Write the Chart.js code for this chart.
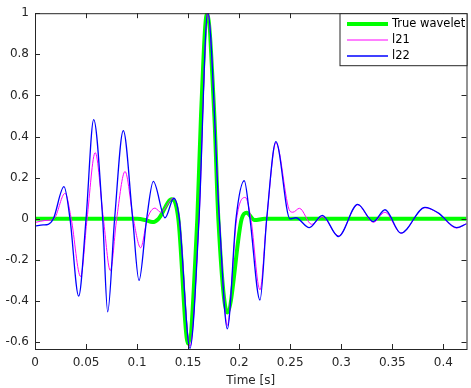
<!DOCTYPE html>
<html>
<head>
<meta charset="utf-8">
<script src="https://cdn.jsdelivr.net/npm/chart.js@4"></script>
<style>
  html, body { margin: 0; padding: 0; background: #fff; }
</style>
</head>
<body>
<canvas id="chart" width="471" height="388"></canvas>
<script>
// Values (time in s, amplitude)
const trueT = [0, 0.1, 0.108, 0.115, 0.121, 0.134, 0.1404, 0.150, 0.159, 0.1626, 0.1685, 0.1757, 0.1796, 0.1884, 0.2025, 0.2074, 0.215, 0.225, 0.4227]
const trueV = [0, 0, -0.006, -0.016, 0, 0.095, 0, -0.607, 0, 0.5, 1.0, 0.5, 0, -0.456, 0, 0.029, -0.006, 0, 0]

const l21T = [0, 0.01, 0.016, 0.0195, 0.0294, 0.0355, 0.0447, 0.051, 0.059, 0.067, 0.0738, 0.08, 0.0882, 0.0963, 0.1035, 0.110, 0.1176, 0.123, 0.1355, 0.1414, 0.1518, 0.1607, 0.1692, 0.1806, 0.1884, 0.1975, 0.206, 0.2115, 0.2204, 0.227, 0.236, 0.2498, 0.2527, 0.259, 0.271, 0.2815, 0.2972, 0.3161, 0.3314, 0.3429, 0.3585, 0.382, 0.395, 0.413, 0.4227]
const l21V = [-0.018, -0.008, -0.006, 0.005, 0.124, 0, -0.281, 0, 0.322, 0, -0.252, 0, 0.23, 0, -0.141, 0, 0.052, 0.032, 0.1, 0, -0.62, 0, 1.0, 0, -0.519, 0, 0.104, 0, -0.346, 0, 0.37, 0.037, 0.032, 0.051, -0.027, 0.01, -0.083, 0.068, -0.017, 0.032, -0.07, 0.054, 0.027, -0.045, -0.024]

const l22T = [0, 0.008, 0.013, 0.018, 0.0284, 0.0343, 0.0428, 0.05, 0.0575, 0.0663, 0.0712, 0.078, 0.0865, 0.0957, 0.1019, 0.1094, 0.1159, 0.1274, 0.136, 0.1414, 0.1518, 0.1607, 0.1692, 0.1806, 0.1884, 0.1969, 0.205, 0.2106, 0.2204, 0.227, 0.236, 0.2498, 0.2555, 0.2687, 0.2815, 0.2972, 0.3161, 0.3314, 0.3429, 0.3585, 0.382, 0.395, 0.413, 0.4227]
const l22V = [-0.035, -0.03, -0.027, 0, 0.156, 0, -0.376, 0, 0.482, 0, -0.452, 0, 0.429, 0, -0.30, 0, 0.182, 0.005, 0.1, 0, -0.63, 0, 1.005, 0, -0.535, 0, 0.185, 0, -0.395, 0, 0.375, 0, 0.005, -0.043, 0.017, -0.086, 0.07, -0.014, 0.044, -0.07, 0.056, 0.029, -0.043, -0.024]

const xTicks = [0, 0.05, 0.1, 0.15, 0.2, 0.25, 0.3, 0.35, 0.4]
const xTickLabels = ["0", "0.05", "0.1", "0.15", "0.2", "0.25", "0.3", "0.35", "0.4"]
const yTicks = [-0.6, -0.4, -0.2, 0, 0.2, 0.4, 0.6, 0.8, 1]
const yTickLabels = ["-0.6", "-0.4", "-0.2", "0", "0.2", "0.4", "0.6", "0.8", "1"]

const axisColor = "#262626"
const pts = (ts, vs) => ts.map((t, i) => ({ x: t, y: vs[i] }))

// MATLAB-like box with inward ticks on all four sides
const axesBox = {
  id: "axesBox",
  afterDatasetsDraw(chart) {
    const { ctx, chartArea: a, scales } = chart
    const len = 5
    ctx.save()
    ctx.strokeStyle = axisColor
    ctx.lineWidth = 1
    ctx.beginPath()
    xTicks.forEach(v => {
      const px = Math.round(scales.x.getPixelForValue(v)) + 0.5
      ctx.moveTo(px, a.bottom); ctx.lineTo(px, a.bottom - len)
      ctx.moveTo(px, a.top); ctx.lineTo(px, a.top + len)
    })
    yTicks.forEach(v => {
      const py = Math.round(scales.y.getPixelForValue(v)) + 0.5
      ctx.moveTo(a.left, py); ctx.lineTo(a.left + len, py)
      ctx.moveTo(a.right, py); ctx.lineTo(a.right - len, py)
    })
    ctx.stroke()
    ctx.strokeRect(a.left + 0.5, a.top + 0.5, a.right - a.left, a.bottom - a.top)
    ctx.restore()
  }
}

// boxed legend in the top right corner
const boxLegend = {
  id: "boxLegend",
  afterDraw(chart) {
    const { ctx, chartArea: a } = chart
    const w = 127, h = 52
    const x0 = a.right + 0.5 - w, y0 = a.top + 0.5
    ctx.save()
    ctx.fillStyle = "#fff"
    ctx.fillRect(x0, y0, w, h)
    ctx.strokeStyle = axisColor
    ctx.lineWidth = 1
    ctx.strokeRect(x0, y0, w, h)
    ctx.font = "11.5px 'DejaVu Sans'"
    ctx.textBaseline = "middle"
    ctx.textAlign = "left"
    chart.data.datasets.forEach((ds, i) => {
      const y = Math.round(y0 + 10 + i * 16.3)
      ctx.strokeStyle = ds.borderColor
      ctx.lineWidth = ds.borderWidth
      ctx.beginPath()
      ctx.moveTo(x0 + 7, y)
      ctx.lineTo(x0 + 48, y)
      ctx.stroke()
      ctx.fillStyle = "#000"
      ctx.fillText(ds.label, x0 + 52, y)
    })
    ctx.restore()
  }
}

new Chart(document.getElementById("chart"), {
  type: "line",
  data: {
    datasets: [
      {
        label: "True wavelet",
        data: pts(trueT, trueV),
        borderColor: "#00ff00",
        borderWidth: 4,
        order: 2
      },
      {
        label: "l21",
        data: pts(l21T, l21V),
        borderColor: "#ff00ff",
        borderWidth: 1,
        order: 1
      },
      {
        label: "l22",
        data: pts(l22T, l22V),
        borderColor: "#0000ff",
        borderWidth: 1.3,
        order: 0
      }
    ]
  },
  options: {
    responsive: false,
    animation: false,
    devicePixelRatio: 1,
    elements: {
      point: { radius: 0 },
      line: { cubicInterpolationMode: "monotone", fill: false }
    },
    layout: { padding: { top: 6, right: 4.5, left: 0, bottom: 0 } },
    plugins: {
      legend: { display: false },
      tooltip: { enabled: false }
    },
    scales: {
      x: {
        type: "linear",
        min: 0,
        max: 0.4227,
        grid: { display: false, drawTicks: false },
        border: { display: false },
        afterBuildTicks: axis => { axis.ticks = xTicks.map(v => ({ value: v })) },
        afterFit: axis => { axis.height = 39 },
        ticks: {
          padding: 7,
          color: axisColor,
          font: { family: "DejaVu Sans", size: 12 },
          maxRotation: 0,
          callback: v => xTickLabels[xTicks.findIndex(t => Math.abs(t - v) < 1e-9)]
        },
        title: {
          display: true,
          text: "Time [s]",
          color: axisColor,
          font: { family: "DejaVu Sans", size: 12 },
          padding: { top: 0, bottom: 0 }
        }
      },
      y: {
        type: "linear",
        min: -0.6333,
        max: 1.0,
        grid: { display: false, drawTicks: false },
        border: { display: false },
        afterBuildTicks: axis => { axis.ticks = yTicks.map(v => ({ value: v })) },
        afterFit: axis => { axis.width = 35 },
        ticks: {
          padding: 6,
          color: axisColor,
          font: { family: "DejaVu Sans", size: 12 },
          callback: v => yTickLabels[yTicks.findIndex(t => Math.abs(t - v) < 1e-9)]
        }
      }
    }
  },
  plugins: [axesBox, boxLegend]
})
</script>
</body>
</html>
